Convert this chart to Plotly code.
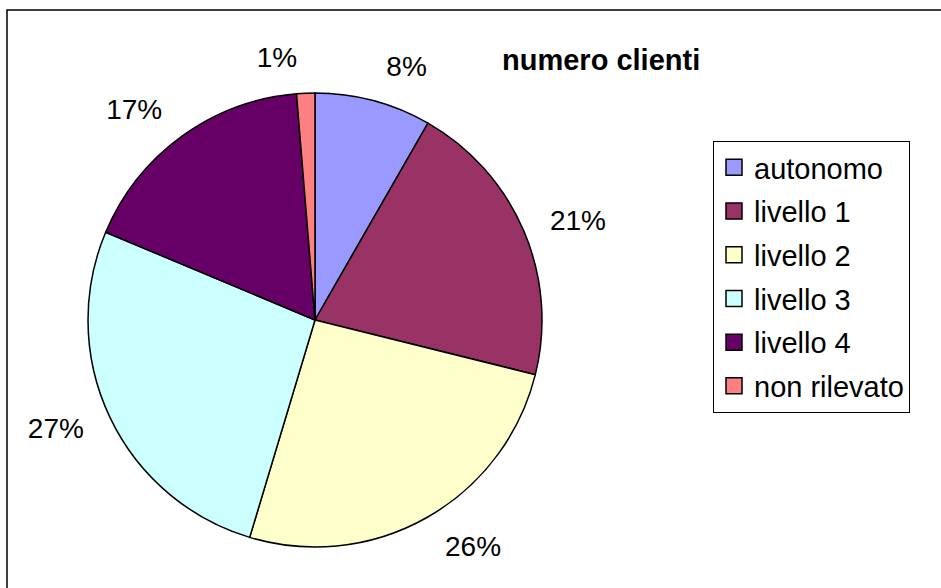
import plotly.graph_objects as go

categories = ["autonomo", "livello 1", "livello 2", "livello 3", "livello 4", "non rilevato"]
values = [8.3, 20.6, 25.8, 26.7, 17.4, 1.3]
colors = ["#9999FF", "#993366", "#FFFFCC", "#CCFFFF", "#660066", "#FF8080"]
title_text = "numero clienti"

W, H = 941, 588
FONT = "Liberation Sans, Arial, sans-serif"

fig = go.Figure()

# invisible, slightly larger pie that only carries the outside percentage labels
fig.add_trace(go.Pie(
    labels=categories,
    values=values,
    sort=False,
    direction="clockwise",
    rotation=0,
    marker=dict(colors=["rgba(0,0,0,0)"] * len(categories), line=dict(width=0)),
    textposition="outside",
    texttemplate="%{percent:.0%}",
    textfont=dict(family=FONT, size=28, color="black"),
    domain=dict(x=[68 / W, 562 / W], y=[1 - 567 / H, 1 - 73 / H]),
    hoverinfo="skip",
    showlegend=False,
))

# visible pie
fig.add_trace(go.Pie(
    labels=categories,
    values=values,
    sort=False,
    direction="clockwise",
    rotation=0,
    marker=dict(colors=colors, line=dict(color="black", width=1.5)),
    textinfo="none",
    domain=dict(x=[88 / W, 542 / W], y=[1 - 547 / H, 1 - 93 / H]),
    hoverinfo="label+percent",
    showlegend=False,
))

# legend entries
for name, col in zip(categories, colors):
    fig.add_trace(go.Scatter(
        x=[None], y=[None], mode="markers", name=name,
        legendgroup=name,
        marker=dict(symbol="square", size=16, color=col,
                    line=dict(color="black", width=1.5)),
        showlegend=True,
    ))

fig.update_layout(
    width=W, height=H,
    margin=dict(l=0, r=0, t=0, b=0),
    paper_bgcolor="white",
    plot_bgcolor="white",
    xaxis=dict(visible=False),
    yaxis=dict(visible=False),
    showlegend=True,
    legend=dict(
        x=713 / W, y=1 - 141 / H, xanchor="left", yanchor="top",
        bordercolor="black", borderwidth=1, bgcolor="white",
        font=dict(family=FONT, size=29, color="black"),
        itemsizing="trace",
        tracegroupgap=3,
    ),
    annotations=[dict(
        text="<b>" + title_text + "</b>",
        x=601 / W, y=1 - 60 / H, xref="paper", yref="paper",
        xanchor="center", yanchor="middle", showarrow=False,
        font=dict(family=FONT, size=29, color="black"),
    )],
    shapes=[dict(
        type="rect", xref="paper", yref="paper",
        x0=7 / W, x1=1.02, y0=-0.02, y1=1 - 10 / H,
        line=dict(color="black", width=1.5), fillcolor="rgba(0,0,0,0)",
        layer="below",
    )],
)

fig.write_html("out.html", config={"displayModeBar": False},
               post_script="document.body.style.margin='0';")
